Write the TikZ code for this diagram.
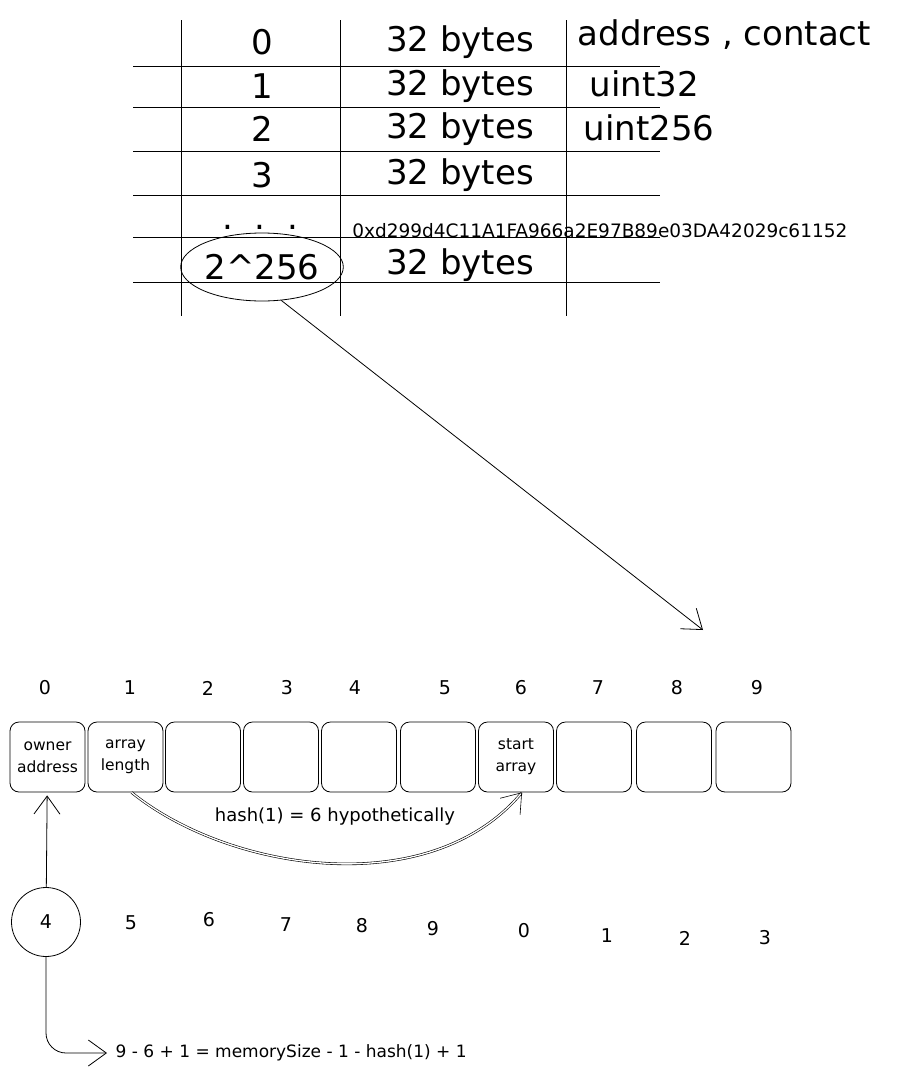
\documentclass[tikz,border=0pt]{standalone}
\usepackage{fontspec}
\setmainfont{DejaVu Sans}
\usetikzlibrary{arrows.meta,shapes.geometric}

\begin{document}
\begin{tikzpicture}[x=1pt,y=-1pt,line width=0.8pt,
  big/.style={font=\fontsize{34}{36}\selectfont},
  small/.style={font=\fontsize{17}{19}\selectfont},
  slot/.style={draw,rounded corners=9pt,minimum width=75pt,minimum height=70pt,
    align=center,inner sep=1pt},
  slotlabel/.style={font=\fontsize{15.5}{22}\selectfont,align=center,inner sep=0pt},
  barb/.style={-{Straight Barb[length=18pt,width=26pt]}}]
\useasboundingbox (0,0) rectangle (911,1074);
% Draw the storage table grid
\foreach \y in {66,107,151,195,237,282}
  \draw (133,\y) -- (660,\y);
\foreach \x in {181,340,566}
  \draw (\x,20) -- (\x,316);
% slot numbers and their size
\foreach \i/\y in {0/42,1/86,2/129,3/175}{
  \node[big] (n\i) at (262,\y) {\i};
  \node[big] (s\i) at (460,\y) {32 bytes};
}
\node[big,anchor=base] (dots) at (260,229) {.~~.~~.};
\node[font=\fontsize{18.5}{20}\selectfont,anchor=west,inner sep=0pt] (hex) at (352,231)
  {0xd299d4C11A1FA966a2E97B89e03DA42029c61152};
\node[big,draw,ellipse,minimum width=159pt,minimum height=68pt,inner sep=0pt] (nlast) at (262,267)
  {2\textasciicircum 256};
\node[big] (slast) at (460,265) {32 bytes};
% what goes in the slots
\node[big,anchor=west] (t0) at (574,35) {address , contact};
\node[big,anchor=west] (t1) at (586,84) {uint32};
\node[big,anchor=west] (t2) at (580,128) {uint256};
% Arrow down to the memory picture
\coordinate (tip) at (703,630);
\draw[barb] (nlast.-60) -- (tip);
% Memory slots with their index on top
\foreach \i/\x/\ix in {0/47.5/45,1/125.5/130,2/203/208,3/281/287,4/359/355,
                        5/438/445,6/516/521,7/594/598,8/674/677,9/753.5/757}{
  \node[slot] (m\i) at (\x,757) {};
  \node[font=\fontsize{19}{20}\selectfont] (i\i) at (\ix,688) {\i};
}
\node[slotlabel] (l0) at (m0) {owner\\address};
\node[slotlabel] (l1) at (m1) {array\\length};
\node[slotlabel] (l6) at (m6) {start\\array};
% the hash jump
\draw[double,double distance=1.3pt,line width=0.6pt,barb] ([xshift=6pt]m1.south)
  .. controls (230,872) and (430,902) .. ([xshift=6pt]m6.south);
\node[font=\fontsize{18}{20}\selectfont] (hash) at (335,817) {hash(1) = 6 hypothetically};
% second row of indexes, wrapped around
\node[draw,circle,minimum size=69pt,font=\fontsize{19}{20}\selectfont] (c4) at (46,922) {4};
\foreach \i/\x/\y in {5/131/923,6/209/920,7/286/925,8/362/926,9/433/929,
                       0/524/931,1/607/936,2/685/938,3/765/938}
  \node[font=\fontsize{19}{20}\selectfont] (w\i) at (\x,\y) {\i};
\draw[barb,shorten >=3pt] (c4) -- (m0);
\node[small,anchor=west] (eq) at (112,1053) {9 - 6 + 1 = memorySize - 1 - hash(1) + 1};
\draw[barb,rounded corners=20pt,shorten >=5pt] (c4.south) |- (eq.west);
\end{tikzpicture}
\end{document}
